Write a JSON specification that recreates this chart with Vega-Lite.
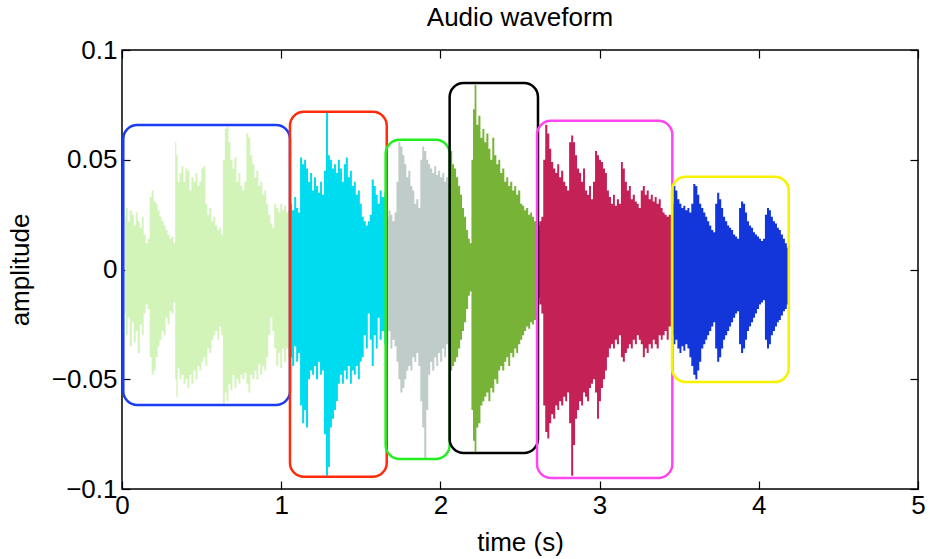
{
  "$schema": "https://vega.github.io/schema/vega-lite/v6.json",
  "width": 796,
  "height": 439,
  "autosize": {"type": "none"},
  "padding": {"left": 122, "top": 50, "right": 12, "bottom": 70},
  "background": "white",
  "title": {"text": "Audio waveform", "fontSize": 26, "font": "Liberation Sans", "fontWeight": "normal", "color": "black", "offset": 6},
  "datasets": {
    "wave": [
      {"s":1,"t":0.020,"hi":0.024,"lo":-0.020},{"s":1,"t":0.030,"hi":0.028,"lo":-0.030},{"s":1,"t":0.042,"hi":0.022,"lo":-0.022},{"s":1,"t":0.055,"hi":0.027,"lo":-0.035},{"s":1,"t":0.068,"hi":0.025,"lo":-0.024},{"s":1,"t":0.080,"hi":0.020,"lo":-0.033},{"s":1,"t":0.092,"hi":0.026,"lo":-0.028},{"s":1,"t":0.105,"hi":0.022,"lo":-0.038},{"s":1,"t":0.118,"hi":0.019,"lo":-0.025},{"s":1,"t":0.130,"hi":0.024,"lo":-0.030},{"s":1,"t":0.142,"hi":0.016,"lo":-0.020},{"s":1,"t":0.155,"hi":0.012,"lo":-0.016},{"s":1,"t":0.168,"hi":0.014,"lo":-0.018},{"s":1,"t":0.180,"hi":0.033,"lo":-0.040},{"s":1,"t":0.192,"hi":0.036,"lo":-0.048},{"s":1,"t":0.205,"hi":0.031,"lo":-0.046},{"s":1,"t":0.218,"hi":0.030,"lo":-0.040},{"s":1,"t":0.230,"hi":0.027,"lo":-0.035},{"s":1,"t":0.242,"hi":0.024,"lo":-0.032},{"s":1,"t":0.255,"hi":0.022,"lo":-0.028},{"s":1,"t":0.268,"hi":0.020,"lo":-0.030},{"s":1,"t":0.280,"hi":0.018,"lo":-0.022},{"s":1,"t":0.292,"hi":0.016,"lo":-0.025},{"s":1,"t":0.305,"hi":0.014,"lo":-0.019},{"s":1,"t":0.318,"hi":0.015,"lo":-0.020},{"s":1,"t":0.330,"hi":0.012,"lo":-0.015},{"s":1,"t":0.338,"hi":0.058,"lo":-0.050},{"s":1,"t":0.345,"hi":0.052,"lo":-0.058},{"s":1,"t":0.355,"hi":0.040,"lo":-0.045},{"s":1,"t":0.368,"hi":0.044,"lo":-0.050},{"s":1,"t":0.380,"hi":0.047,"lo":-0.048},{"s":1,"t":0.392,"hi":0.040,"lo":-0.052},{"s":1,"t":0.405,"hi":0.046,"lo":-0.050},{"s":1,"t":0.418,"hi":0.045,"lo":-0.054},{"s":1,"t":0.430,"hi":0.036,"lo":-0.048},{"s":1,"t":0.442,"hi":0.042,"lo":-0.052},{"s":1,"t":0.455,"hi":0.040,"lo":-0.046},{"s":1,"t":0.468,"hi":0.044,"lo":-0.050},{"s":1,"t":0.480,"hi":0.038,"lo":-0.044},{"s":1,"t":0.492,"hi":0.040,"lo":-0.046},{"s":1,"t":0.505,"hi":0.046,"lo":-0.042},{"s":1,"t":0.518,"hi":0.047,"lo":-0.040},{"s":1,"t":0.530,"hi":0.030,"lo":-0.044},{"s":1,"t":0.542,"hi":0.025,"lo":-0.036},{"s":1,"t":0.555,"hi":0.028,"lo":-0.038},{"s":1,"t":0.568,"hi":0.022,"lo":-0.032},{"s":1,"t":0.580,"hi":0.024,"lo":-0.030},{"s":1,"t":0.592,"hi":0.020,"lo":-0.028},{"s":1,"t":0.605,"hi":0.018,"lo":-0.032},{"s":1,"t":0.618,"hi":0.019,"lo":-0.026},{"s":1,"t":0.628,"hi":0.016,"lo":-0.030},{"s":1,"t":0.640,"hi":0.050,"lo":-0.061},{"s":1,"t":0.652,"hi":0.064,"lo":-0.056},{"s":1,"t":0.662,"hi":0.065,"lo":-0.060},{"s":1,"t":0.675,"hi":0.058,"lo":-0.052},{"s":1,"t":0.688,"hi":0.050,"lo":-0.055},{"s":1,"t":0.700,"hi":0.046,"lo":-0.048},{"s":1,"t":0.712,"hi":0.051,"lo":-0.054},{"s":1,"t":0.725,"hi":0.040,"lo":-0.050},{"s":1,"t":0.738,"hi":0.044,"lo":-0.052},{"s":1,"t":0.750,"hi":0.038,"lo":-0.048},{"s":1,"t":0.762,"hi":0.036,"lo":-0.050},{"s":1,"t":0.775,"hi":0.040,"lo":-0.047},{"s":1,"t":0.788,"hi":0.062,"lo":-0.052},{"s":1,"t":0.800,"hi":0.060,"lo":-0.056},{"s":1,"t":0.812,"hi":0.052,"lo":-0.048},{"s":1,"t":0.825,"hi":0.048,"lo":-0.050},{"s":1,"t":0.838,"hi":0.042,"lo":-0.046},{"s":1,"t":0.850,"hi":0.045,"lo":-0.050},{"s":1,"t":0.862,"hi":0.038,"lo":-0.043},{"s":1,"t":0.875,"hi":0.040,"lo":-0.048},{"s":1,"t":0.888,"hi":0.034,"lo":-0.044},{"s":1,"t":0.900,"hi":0.036,"lo":-0.046},{"s":1,"t":0.912,"hi":0.030,"lo":-0.040},{"s":1,"t":0.925,"hi":0.025,"lo":-0.030},{"s":1,"t":0.938,"hi":0.021,"lo":-0.022},{"s":1,"t":0.950,"hi":0.019,"lo":-0.028},{"s":1,"t":0.962,"hi":0.030,"lo":-0.036},{"s":1,"t":0.975,"hi":0.028,"lo":-0.044},{"s":1,"t":0.988,"hi":0.026,"lo":-0.038},{"s":1,"t":1.000,"hi":0.030,"lo":-0.045},{"s":1,"t":1.012,"hi":0.027,"lo":-0.036},{"s":1,"t":1.025,"hi":0.029,"lo":-0.042},{"s":1,"t":1.038,"hi":0.026,"lo":-0.036},{"s":1,"t":1.052,"hi":0.027,"lo":-0.040},
      {"s":2,"t":1.050,"hi":0.026,"lo":-0.036},{"s":2,"t":1.062,"hi":0.030,"lo":-0.040},{"s":2,"t":1.075,"hi":0.027,"lo":-0.044},{"s":2,"t":1.088,"hi":0.033,"lo":-0.035},{"s":2,"t":1.100,"hi":0.028,"lo":-0.042},{"s":2,"t":1.112,"hi":0.026,"lo":-0.038},{"s":2,"t":1.125,"hi":0.051,"lo":-0.062},{"s":2,"t":1.138,"hi":0.048,"lo":-0.070},{"s":2,"t":1.150,"hi":0.050,"lo":-0.064},{"s":2,"t":1.162,"hi":0.046,"lo":-0.072},{"s":2,"t":1.175,"hi":0.040,"lo":-0.050},{"s":2,"t":1.188,"hi":0.044,"lo":-0.046},{"s":2,"t":1.200,"hi":0.036,"lo":-0.048},{"s":2,"t":1.212,"hi":0.042,"lo":-0.044},{"s":2,"t":1.225,"hi":0.038,"lo":-0.050},{"s":2,"t":1.238,"hi":0.035,"lo":-0.042},{"s":2,"t":1.250,"hi":0.040,"lo":-0.048},{"s":2,"t":1.262,"hi":0.034,"lo":-0.046},{"s":2,"t":1.275,"hi":0.045,"lo":-0.075},{"s":2,"t":1.288,"hi":0.072,"lo":-0.094},{"s":2,"t":1.300,"hi":0.052,"lo":-0.090},{"s":2,"t":1.312,"hi":0.050,"lo":-0.072},{"s":2,"t":1.325,"hi":0.046,"lo":-0.068},{"s":2,"t":1.338,"hi":0.048,"lo":-0.064},{"s":2,"t":1.350,"hi":0.044,"lo":-0.060},{"s":2,"t":1.362,"hi":0.050,"lo":-0.052},{"s":2,"t":1.375,"hi":0.046,"lo":-0.048},{"s":2,"t":1.388,"hi":0.040,"lo":-0.052},{"s":2,"t":1.400,"hi":0.048,"lo":-0.046},{"s":2,"t":1.412,"hi":0.051,"lo":-0.050},{"s":2,"t":1.425,"hi":0.042,"lo":-0.044},{"s":2,"t":1.438,"hi":0.045,"lo":-0.052},{"s":2,"t":1.450,"hi":0.038,"lo":-0.046},{"s":2,"t":1.462,"hi":0.040,"lo":-0.048},{"s":2,"t":1.475,"hi":0.034,"lo":-0.044},{"s":2,"t":1.488,"hi":0.036,"lo":-0.050},{"s":2,"t":1.500,"hi":0.030,"lo":-0.042},{"s":2,"t":1.512,"hi":0.024,"lo":-0.040},{"s":2,"t":1.525,"hi":0.022,"lo":-0.030},{"s":2,"t":1.538,"hi":0.020,"lo":-0.036},{"s":2,"t":1.550,"hi":0.022,"lo":-0.020},{"s":2,"t":1.562,"hi":0.025,"lo":-0.032},{"s":2,"t":1.575,"hi":0.041,"lo":-0.044},{"s":2,"t":1.588,"hi":0.038,"lo":-0.030},{"s":2,"t":1.600,"hi":0.034,"lo":-0.036},{"s":2,"t":1.612,"hi":0.030,"lo":-0.022},{"s":2,"t":1.625,"hi":0.036,"lo":-0.032},{"s":2,"t":1.638,"hi":0.033,"lo":-0.028},{"s":2,"t":1.657,"hi":0.035,"lo":-0.034},
      {"s":3,"t":1.655,"hi":0.026,"lo":-0.030},{"s":3,"t":1.668,"hi":0.024,"lo":-0.034},{"s":3,"t":1.680,"hi":0.027,"lo":-0.028},{"s":3,"t":1.692,"hi":0.025,"lo":-0.036},{"s":3,"t":1.705,"hi":0.022,"lo":-0.032},{"s":3,"t":1.718,"hi":0.026,"lo":-0.035},{"s":3,"t":1.730,"hi":0.040,"lo":-0.042},{"s":3,"t":1.742,"hi":0.058,"lo":-0.050},{"s":3,"t":1.755,"hi":0.056,"lo":-0.056},{"s":3,"t":1.768,"hi":0.052,"lo":-0.054},{"s":3,"t":1.780,"hi":0.048,"lo":-0.050},{"s":3,"t":1.792,"hi":0.042,"lo":-0.046},{"s":3,"t":1.805,"hi":0.045,"lo":-0.044},{"s":3,"t":1.818,"hi":0.038,"lo":-0.046},{"s":3,"t":1.830,"hi":0.036,"lo":-0.040},{"s":3,"t":1.842,"hi":0.030,"lo":-0.042},{"s":3,"t":1.855,"hi":0.032,"lo":-0.038},{"s":3,"t":1.868,"hi":0.028,"lo":-0.044},{"s":3,"t":1.880,"hi":0.050,"lo":-0.060},{"s":3,"t":1.892,"hi":0.056,"lo":-0.072},{"s":3,"t":1.905,"hi":0.054,"lo":-0.086},{"s":3,"t":1.918,"hi":0.050,"lo":-0.064},{"s":3,"t":1.930,"hi":0.048,"lo":-0.048},{"s":3,"t":1.942,"hi":0.046,"lo":-0.042},{"s":3,"t":1.955,"hi":0.044,"lo":-0.046},{"s":3,"t":1.968,"hi":0.047,"lo":-0.040},{"s":3,"t":1.980,"hi":0.043,"lo":-0.044},{"s":3,"t":1.992,"hi":0.045,"lo":-0.038},{"s":3,"t":2.005,"hi":0.042,"lo":-0.042},{"s":3,"t":2.018,"hi":0.044,"lo":-0.036},{"s":3,"t":2.030,"hi":0.040,"lo":-0.040},{"s":3,"t":2.042,"hi":0.042,"lo":-0.034},{"s":3,"t":2.057,"hi":0.038,"lo":-0.036},
      {"s":4,"t":2.055,"hi":0.050,"lo":-0.040},{"s":4,"t":2.068,"hi":0.054,"lo":-0.046},{"s":4,"t":2.080,"hi":0.048,"lo":-0.044},{"s":4,"t":2.092,"hi":0.046,"lo":-0.042},{"s":4,"t":2.105,"hi":0.042,"lo":-0.040},{"s":4,"t":2.118,"hi":0.038,"lo":-0.036},{"s":4,"t":2.130,"hi":0.034,"lo":-0.032},{"s":4,"t":2.142,"hi":0.028,"lo":-0.028},{"s":4,"t":2.155,"hi":0.024,"lo":-0.024},{"s":4,"t":2.168,"hi":0.018,"lo":-0.018},{"s":4,"t":2.180,"hi":0.014,"lo":-0.012},{"s":4,"t":2.190,"hi":0.012,"lo":-0.010},{"s":4,"t":2.200,"hi":0.050,"lo":-0.064},{"s":4,"t":2.210,"hi":0.073,"lo":-0.078},{"s":4,"t":2.220,"hi":0.084,"lo":-0.083},{"s":4,"t":2.232,"hi":0.066,"lo":-0.072},{"s":4,"t":2.245,"hi":0.070,"lo":-0.070},{"s":4,"t":2.258,"hi":0.060,"lo":-0.062},{"s":4,"t":2.270,"hi":0.064,"lo":-0.060},{"s":4,"t":2.282,"hi":0.058,"lo":-0.058},{"s":4,"t":2.295,"hi":0.062,"lo":-0.056},{"s":4,"t":2.308,"hi":0.055,"lo":-0.060},{"s":4,"t":2.320,"hi":0.050,"lo":-0.054},{"s":4,"t":2.332,"hi":0.060,"lo":-0.056},{"s":4,"t":2.345,"hi":0.052,"lo":-0.050},{"s":4,"t":2.358,"hi":0.048,"lo":-0.052},{"s":4,"t":2.370,"hi":0.050,"lo":-0.046},{"s":4,"t":2.382,"hi":0.044,"lo":-0.044},{"s":4,"t":2.395,"hi":0.046,"lo":-0.046},{"s":4,"t":2.408,"hi":0.040,"lo":-0.042},{"s":4,"t":2.420,"hi":0.042,"lo":-0.040},{"s":4,"t":2.432,"hi":0.038,"lo":-0.044},{"s":4,"t":2.445,"hi":0.040,"lo":-0.038},{"s":4,"t":2.458,"hi":0.036,"lo":-0.040},{"s":4,"t":2.470,"hi":0.038,"lo":-0.036},{"s":4,"t":2.482,"hi":0.034,"lo":-0.038},{"s":4,"t":2.495,"hi":0.036,"lo":-0.034},{"s":4,"t":2.508,"hi":0.030,"lo":-0.032},{"s":4,"t":2.520,"hi":0.029,"lo":-0.030},{"s":4,"t":2.532,"hi":0.027,"lo":-0.028},{"s":4,"t":2.545,"hi":0.028,"lo":-0.026},{"s":4,"t":2.558,"hi":0.025,"lo":-0.027},{"s":4,"t":2.570,"hi":0.026,"lo":-0.024},{"s":4,"t":2.582,"hi":0.024,"lo":-0.025},{"s":4,"t":2.595,"hi":0.022,"lo":-0.023},{"s":4,"t":2.617,"hi":0.021,"lo":-0.022},
      {"s":5,"t":2.615,"hi":0.020,"lo":-0.013},{"s":5,"t":2.628,"hi":0.022,"lo":-0.016},{"s":5,"t":2.640,"hi":0.024,"lo":-0.020},{"s":5,"t":2.652,"hi":0.050,"lo":-0.062},{"s":5,"t":2.665,"hi":0.066,"lo":-0.074},{"s":5,"t":2.678,"hi":0.062,"lo":-0.077},{"s":5,"t":2.690,"hi":0.055,"lo":-0.070},{"s":5,"t":2.702,"hi":0.049,"lo":-0.066},{"s":5,"t":2.715,"hi":0.046,"lo":-0.068},{"s":5,"t":2.728,"hi":0.044,"lo":-0.062},{"s":5,"t":2.740,"hi":0.048,"lo":-0.064},{"s":5,"t":2.752,"hi":0.042,"lo":-0.060},{"s":5,"t":2.765,"hi":0.045,"lo":-0.062},{"s":5,"t":2.778,"hi":0.040,"lo":-0.058},{"s":5,"t":2.790,"hi":0.038,"lo":-0.060},{"s":5,"t":2.802,"hi":0.036,"lo":-0.056},{"s":5,"t":2.815,"hi":0.058,"lo":-0.070},{"s":5,"t":2.828,"hi":0.061,"lo":-0.094},{"s":5,"t":2.840,"hi":0.058,"lo":-0.080},{"s":5,"t":2.852,"hi":0.052,"lo":-0.068},{"s":5,"t":2.865,"hi":0.046,"lo":-0.064},{"s":5,"t":2.878,"hi":0.044,"lo":-0.060},{"s":5,"t":2.890,"hi":0.040,"lo":-0.062},{"s":5,"t":2.902,"hi":0.046,"lo":-0.056},{"s":5,"t":2.915,"hi":0.036,"lo":-0.058},{"s":5,"t":2.928,"hi":0.034,"lo":-0.060},{"s":5,"t":2.940,"hi":0.038,"lo":-0.054},{"s":5,"t":2.952,"hi":0.032,"lo":-0.052},{"s":5,"t":2.965,"hi":0.040,"lo":-0.050},{"s":5,"t":2.978,"hi":0.054,"lo":-0.056},{"s":5,"t":2.990,"hi":0.052,"lo":-0.068},{"s":5,"t":3.002,"hi":0.050,"lo":-0.060},{"s":5,"t":3.015,"hi":0.049,"lo":-0.054},{"s":5,"t":3.028,"hi":0.046,"lo":-0.050},{"s":5,"t":3.040,"hi":0.044,"lo":-0.046},{"s":5,"t":3.052,"hi":0.036,"lo":-0.040},{"s":5,"t":3.065,"hi":0.033,"lo":-0.036},{"s":5,"t":3.078,"hi":0.030,"lo":-0.034},{"s":5,"t":3.090,"hi":0.034,"lo":-0.036},{"s":5,"t":3.102,"hi":0.029,"lo":-0.032},{"s":5,"t":3.115,"hi":0.032,"lo":-0.034},{"s":5,"t":3.128,"hi":0.030,"lo":-0.030},{"s":5,"t":3.140,"hi":0.049,"lo":-0.040},{"s":5,"t":3.152,"hi":0.046,"lo":-0.042},{"s":5,"t":3.165,"hi":0.040,"lo":-0.038},{"s":5,"t":3.178,"hi":0.036,"lo":-0.036},{"s":5,"t":3.190,"hi":0.038,"lo":-0.034},{"s":5,"t":3.202,"hi":0.032,"lo":-0.036},{"s":5,"t":3.215,"hi":0.034,"lo":-0.032},{"s":5,"t":3.228,"hi":0.031,"lo":-0.034},{"s":5,"t":3.240,"hi":0.030,"lo":-0.030},{"s":5,"t":3.252,"hi":0.028,"lo":-0.032},{"s":5,"t":3.265,"hi":0.036,"lo":-0.034},{"s":5,"t":3.278,"hi":0.038,"lo":-0.040},{"s":5,"t":3.290,"hi":0.034,"lo":-0.036},{"s":5,"t":3.302,"hi":0.036,"lo":-0.038},{"s":5,"t":3.315,"hi":0.032,"lo":-0.034},{"s":5,"t":3.328,"hi":0.034,"lo":-0.036},{"s":5,"t":3.340,"hi":0.031,"lo":-0.032},{"s":5,"t":3.352,"hi":0.033,"lo":-0.034},{"s":5,"t":3.365,"hi":0.030,"lo":-0.036},{"s":5,"t":3.378,"hi":0.032,"lo":-0.030},{"s":5,"t":3.390,"hi":0.028,"lo":-0.032},{"s":5,"t":3.402,"hi":0.026,"lo":-0.030},{"s":5,"t":3.415,"hi":0.025,"lo":-0.028},{"s":5,"t":3.428,"hi":0.024,"lo":-0.032},{"s":5,"t":3.440,"hi":0.025,"lo":-0.026},{"s":5,"t":3.462,"hi":0.024,"lo":-0.028},
      {"s":6,"t":3.460,"hi":0.030,"lo":-0.030},{"s":6,"t":3.470,"hi":0.038,"lo":-0.034},{"s":6,"t":3.482,"hi":0.036,"lo":-0.032},{"s":6,"t":3.495,"hi":0.032,"lo":-0.036},{"s":6,"t":3.508,"hi":0.030,"lo":-0.038},{"s":6,"t":3.520,"hi":0.028,"lo":-0.035},{"s":6,"t":3.532,"hi":0.029,"lo":-0.037},{"s":6,"t":3.545,"hi":0.027,"lo":-0.034},{"s":6,"t":3.558,"hi":0.028,"lo":-0.036},{"s":6,"t":3.570,"hi":0.026,"lo":-0.040},{"s":6,"t":3.582,"hi":0.030,"lo":-0.044},{"s":6,"t":3.595,"hi":0.039,"lo":-0.048},{"s":6,"t":3.608,"hi":0.038,"lo":-0.050},{"s":6,"t":3.620,"hi":0.034,"lo":-0.046},{"s":6,"t":3.632,"hi":0.030,"lo":-0.042},{"s":6,"t":3.645,"hi":0.028,"lo":-0.036},{"s":6,"t":3.658,"hi":0.026,"lo":-0.034},{"s":6,"t":3.670,"hi":0.024,"lo":-0.032},{"s":6,"t":3.682,"hi":0.022,"lo":-0.030},{"s":6,"t":3.695,"hi":0.020,"lo":-0.028},{"s":6,"t":3.708,"hi":0.018,"lo":-0.026},{"s":6,"t":3.720,"hi":0.017,"lo":-0.024},{"s":6,"t":3.732,"hi":0.030,"lo":-0.036},{"s":6,"t":3.745,"hi":0.035,"lo":-0.042},{"s":6,"t":3.758,"hi":0.032,"lo":-0.040},{"s":6,"t":3.770,"hi":0.028,"lo":-0.036},{"s":6,"t":3.782,"hi":0.024,"lo":-0.032},{"s":6,"t":3.795,"hi":0.022,"lo":-0.030},{"s":6,"t":3.808,"hi":0.020,"lo":-0.028},{"s":6,"t":3.820,"hi":0.019,"lo":-0.026},{"s":6,"t":3.832,"hi":0.018,"lo":-0.024},{"s":6,"t":3.845,"hi":0.016,"lo":-0.022},{"s":6,"t":3.858,"hi":0.015,"lo":-0.020},{"s":6,"t":3.870,"hi":0.014,"lo":-0.019},{"s":6,"t":3.882,"hi":0.028,"lo":-0.034},{"s":6,"t":3.895,"hi":0.031,"lo":-0.038},{"s":6,"t":3.908,"hi":0.030,"lo":-0.036},{"s":6,"t":3.920,"hi":0.026,"lo":-0.032},{"s":6,"t":3.932,"hi":0.022,"lo":-0.028},{"s":6,"t":3.945,"hi":0.020,"lo":-0.026},{"s":6,"t":3.958,"hi":0.019,"lo":-0.024},{"s":6,"t":3.970,"hi":0.017,"lo":-0.022},{"s":6,"t":3.982,"hi":0.016,"lo":-0.020},{"s":6,"t":3.995,"hi":0.015,"lo":-0.018},{"s":6,"t":4.008,"hi":0.014,"lo":-0.016},{"s":6,"t":4.020,"hi":0.013,"lo":-0.015},{"s":6,"t":4.032,"hi":0.014,"lo":-0.014},{"s":6,"t":4.045,"hi":0.025,"lo":-0.032},{"s":6,"t":4.058,"hi":0.028,"lo":-0.036},{"s":6,"t":4.070,"hi":0.027,"lo":-0.034},{"s":6,"t":4.082,"hi":0.024,"lo":-0.030},{"s":6,"t":4.095,"hi":0.022,"lo":-0.028},{"s":6,"t":4.108,"hi":0.021,"lo":-0.026},{"s":6,"t":4.120,"hi":0.019,"lo":-0.024},{"s":6,"t":4.132,"hi":0.018,"lo":-0.023},{"s":6,"t":4.145,"hi":0.016,"lo":-0.021},{"s":6,"t":4.158,"hi":0.014,"lo":-0.019},{"s":6,"t":4.170,"hi":0.012,"lo":-0.018},{"s":6,"t":4.182,"hi":0.010,"lo":-0.016},{"s":6,"t":4.190,"hi":0.008,"lo":-0.014}
    ],
    "boxes": [
      {"b":"blue","x1":0.008,"x2":1.055,"y1":0.0658,"y2":-0.0617},
      {"b":"red","x1":1.055,"x2":1.663,"y1":0.0719,"y2":-0.0944},
      {"b":"green","x1":1.656,"x2":2.058,"y1":0.0591,"y2":-0.0863},
      {"b":"black","x1":2.058,"x2":2.613,"y1":0.0850,"y2":-0.0836},
      {"b":"magenta","x1":2.607,"x2":3.457,"y1":0.0678,"y2":-0.0950},
      {"b":"yellow","x1":3.455,"x2":4.188,"y1":0.0423,"y2":-0.0513}
    ]
  },
  "layer": [
    {
      "data": {"name": "wave"},
      "mark": {"type": "area", "interpolate": "step", "opacity": 1},
      "encoding": {
        "x": {"field": "t", "type": "quantitative", "scale": {"domain": [0, 5], "nice": false, "zero": false},
              "axis": {"orient": "bottom", "values": [0,1,2,3,4,5], "title": "time (s)", "labelPadding": 11, "titlePadding": 11}},
        "y": {"field": "hi", "type": "quantitative", "stack": null, "scale": {"domain": [-0.1, 0.1], "nice": false, "zero": false},
              "axis": {"orient": "left", "values": [-0.1,-0.05,0,0.05,0.1], "format": "~g", "title": "amplitude", "labelPadding": 13, "titlePadding": 18}},
        "y2": {"field": "lo"},
        "color": {"field": "s", "type": "nominal", "legend": null,
                  "scale": {"domain": [1,2,3,4,5,6], "range": ["#d3f4b8", "#00dcef", "#bfccc9", "#77b336", "#c42157", "#1236d9"]}},
        "detail": {"field": "s"}
      }
    },
    {
      "data": {"name": "boxes"},
      "mark": {"type": "rect", "filled": false, "cornerRadius": 14, "strokeWidth": 2.5},
      "encoding": {
        "x": {"field": "x1", "type": "quantitative", "scale": {"domain": [0, 5], "nice": false, "zero": false},
              "axis": {"orient": "top", "values": [0,1,2,3,4,5], "labels": false, "title": null}},
        "x2": {"field": "x2"},
        "y": {"field": "y1", "type": "quantitative", "scale": {"domain": [-0.1, 0.1], "nice": false, "zero": false},
              "axis": {"orient": "right", "values": [-0.1,-0.05,0,0.05,0.1], "labels": false, "title": null}},
        "y2": {"field": "y2"},
        "stroke": {"field": "b", "type": "nominal", "legend": null,
                   "scale": {"domain": ["blue","red","green","black","magenta","yellow"], "range": ["#1a3cf2", "#ff2c0c", "#22ee22", "#000000", "#ff46ee", "#f6f200"]}}
      }
    }
  ],
  "resolve": {"axis": {"x": "independent", "y": "independent"}, "scale": {"color": "independent", "stroke": "independent"}},
  "config": {
    "view": {"stroke": "black", "strokeWidth": 1.5},
    "axis": {"domain": false, "grid": false, "ticks": true, "tickSize": -8, "tickColor": "black", "tickWidth": 1.2,
             "labelFont": "Liberation Sans", "labelFontSize": 26, "labelColor": "black", "labelFlush": false,
             "titleFont": "Liberation Sans", "titleFontSize": 26, "titleFontWeight": "normal", "titleColor": "black"}
  }
}
